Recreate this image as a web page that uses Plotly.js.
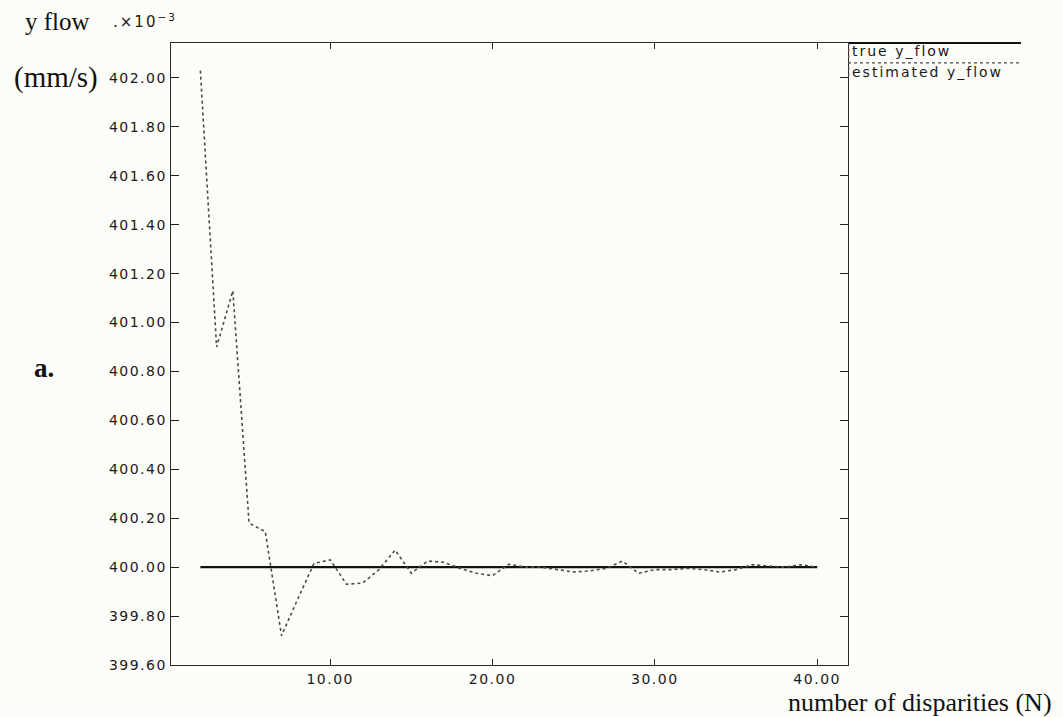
<!DOCTYPE html>
<html>
<head>
<meta charset="utf-8">
<script src="https://cdn.plot.ly/plotly-3.0.1.min.js"></script>
<style>
  html, body { margin: 0; padding: 0; background: #fcfcf9; }
  #chart { width: 1063px; height: 717px; }
  .xtick text, .ytick text { letter-spacing: 1.5px; }
  .annotation[data-index="0"] text,
  .annotation[data-index="1"] text,
  .annotation[data-index="3"] text { letter-spacing: 2px; }
</style>
</head>
<body>
<div id="chart"></div>
<script>
// number of disparities N
const disparities = [2,3,4,5,6,7,8,9,10,11,12,13,14,15,16,17,18,19,20,21,
                     22,23,24,25,26,27,28,29,30,31,32,33,34,35,36,37,38,39,40];

// y flow, in units of 1e-3 mm/s
const trueYFlow = disparities.map(() => 400.00);
const estimatedYFlow = [402.03, 400.90, 401.13, 400.18, 400.145, 399.72, 399.87, 400.015,
                        400.03, 399.93, 399.935, 399.99, 400.07, 399.975, 400.025, 400.02,
                        399.995, 399.975, 399.965, 400.012, 400.0, 400.0, 399.99, 399.98,
                        399.985, 399.995, 400.025, 399.975, 399.99, 399.99, 399.995, 399.99,
                        399.98, 399.99, 400.01, 400.005, 400.0, 400.01, 400.0];

const yTicks = [399.6, 399.8, 400.0, 400.2, 400.4, 400.6, 400.8, 401.0, 401.2, 401.4, 401.6, 401.8, 402.0];
const xTicks = [10, 20, 30, 40];
const legendNames = ['true y_flow', 'estimated y_flow'];

const sans = 'DejaVu Sans, sans-serif';
const tickFont = { family: sans, size: 14, color: '#1a1a1a' };
const serif = 'Liberation Serif, Times New Roman, serif';

const traces = [
  {
    x: disparities, y: trueYFlow, type: 'scatter', mode: 'lines',
    name: legendNames[0],
    line: { color: '#111', width: 2.2 }
  },
  {
    x: disparities, y: estimatedYFlow, type: 'scatter', mode: 'lines',
    name: legendNames[1],
    line: { color: '#4a4a4a', width: 1.6, dash: 'dot' }
  }
];

const layout = {
  width: 1063, height: 717,
  margin: { l: 171, r: 215, t: 43, b: 52 },
  paper_bgcolor: '#fcfcf9',
  plot_bgcolor: '#fcfcf9',
  showlegend: false,
  xaxis: {
    range: [0.19, 41.9],
    tickvals: xTicks,
    tickformat: '.2f',
    ticks: 'inside', ticklen: 6, tickcolor: '#222',
    ticklabelstandoff: 1,
    showgrid: false, zeroline: false,
    showline: true, linecolor: '#2a2a2a', linewidth: 1.3, mirror: 'ticks',
    tickfont: tickFont
  },
  yaxis: {
    range: [399.6, 402.143],
    tickvals: yTicks,
    tickformat: '.2f',
    ticks: 'inside', ticklen: 8, tickcolor: '#222',
    showgrid: false, zeroline: false,
    showline: true, linecolor: '#2a2a2a', linewidth: 1.3, mirror: 'ticks',
    tickfont: tickFont
  },
  shapes: [
    // legend frame and line samples to the right of the plot
    { type: 'line', xref: 'paper', yref: 'paper', x0: 1, x1: 1.2555, y0: 1, y1: 1,
      line: { color: '#111', width: 2.2 } },
    { type: 'line', xref: 'paper', yref: 'paper', x0: 1, x1: 1.2555, y0: 0.968, y1: 0.968,
      line: { color: '#4a4a4a', width: 1.3, dash: 'dot' } },
    { type: 'line', xref: 'paper', yref: 'paper', x0: 1.001, x1: 1.001, y0: 1, y1: 0.943,
      line: { color: '#444', width: 1.2, dash: 'dot' } }
  ],
  annotations: [
    { text: legendNames[0], xref: 'paper', yref: 'paper', x: 1.0195, y: 0.987,
      xanchor: 'left', yanchor: 'middle', showarrow: false,
      font: { family: sans, size: 14, color: '#1a1a1a' } },
    { text: legendNames[1], xref: 'paper', yref: 'paper', x: 1.0262, y: 0.954,
      xanchor: 'left', yanchor: 'middle', showarrow: false,
      font: { family: sans, size: 14, color: '#1a1a1a' } },
    { text: 'y flow', xref: 'paper', yref: 'paper', x: -0.2186, y: 1.034,
      xanchor: 'left', yanchor: 'middle', showarrow: false,
      font: { family: serif, size: 25, color: '#111' } },
    { text: '.×10<sup>−3</sup>', xref: 'paper', yref: 'paper', x: -0.0795, y: 1.036,
      xanchor: 'left', yanchor: 'middle', showarrow: false,
      font: { family: sans, size: 15, color: '#1a1a1a' } },
    { text: '(mm/s)', xref: 'paper', yref: 'paper', x: -0.2345, y: 0.9445,
      xanchor: 'left', yanchor: 'middle', showarrow: false,
      font: { family: serif, size: 29, color: '#111' } },
    { text: '<b>a.</b>', xref: 'paper', yref: 'paper', x: -0.2055, y: 0.4775,
      xanchor: 'left', yanchor: 'middle', showarrow: false,
      font: { family: serif, size: 27, color: '#111' } },
    { text: 'number of disparities (N)', xref: 'paper', yref: 'paper', x: 0.909, y: -0.0605,
      xanchor: 'left', yanchor: 'middle', showarrow: false,
      font: { family: serif, size: 26, color: '#111' } }
  ]
};

Plotly.newPlot('chart', traces, layout, { displayModeBar: false, staticPlot: true });
</script>
</body>
</html>
